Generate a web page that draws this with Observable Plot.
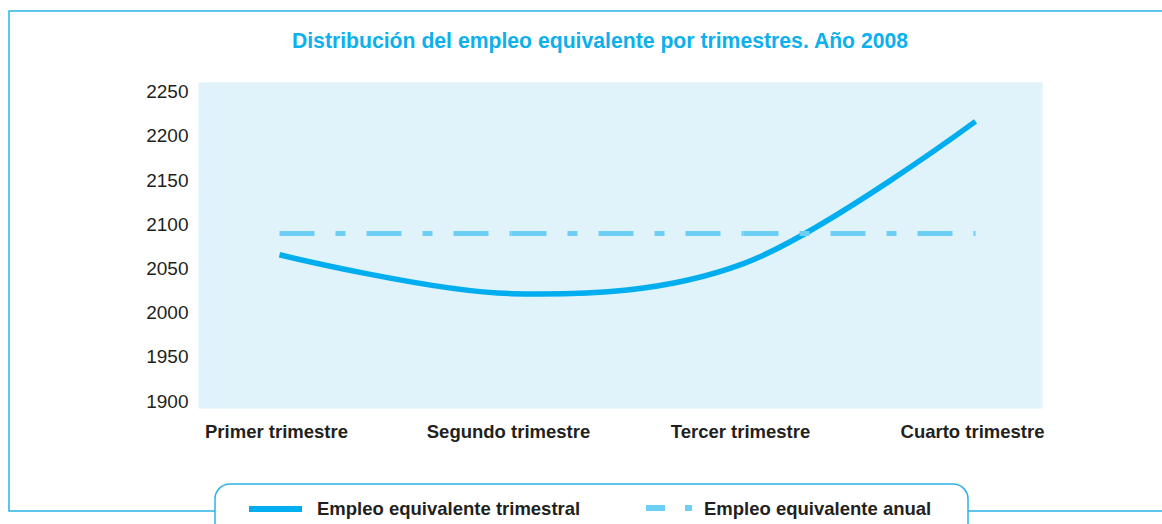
<!DOCTYPE html>
<html>
<head>
<meta charset="utf-8">
<script src="https://cdn.jsdelivr.net/npm/d3@7"></script>
<script src="https://cdn.jsdelivr.net/npm/@observablehq/plot@0.6"></script>
<style>
  body { margin: 0; background: #fff; }
  #wrap { position: relative; width: 1162px; height: 524px; overflow: hidden; font-family: "Liberation Sans", Arial, sans-serif; }
  #wrap > svg { position: absolute; left: 0; top: 0; }
  #deco { pointer-events: none; }
</style>
</head>
<body>
<div id="wrap"></div>
<script>
// ---- data ----
const categories = ["Primer trimestre", "Segundo trimestre", "Tercer trimestre", "Cuarto trimestre"];
const trimestral = [2066, 2022, 2056, 2217];
const anual = [2090, 2090, 2090, 2090];
const yTicks = [1900, 1950, 2000, 2050, 2100, 2150, 2200, 2250];
const titleText = "Distribución del empleo equivalente por trimestres. Año 2008";
const legendLabels = ["Empleo equivalente trimestral", "Empleo equivalente anual"];

const solidColor = "#00aeef";
const dashColor = "#6dcff6";
const borderColor = "#2ab3e8";
const textColor = "#231f20";

const rows = categories.map((c, i) => ({c, v: trimestral[i]}));
// annual line drawn per interval between categories (dash pattern restarts)
const segs = categories.slice(0, -1).flatMap((c, i) => [
  {c, v: anual[i], s: i},
  {c: categories[i + 1], v: anual[i + 1], s: i}
]);

const chart = Plot.plot({
  width: 1162,
  height: 524,
  marginTop: 82,
  marginBottom: 116,
  marginLeft: 198,
  marginRight: 120,
  style: {background: "transparent", fontFamily: "'Liberation Sans', Arial, sans-serif", overflow: "visible"},
  x: {type: "point", domain: categories, range: [279, 975], padding: 0, label: null},
  y: {domain: [1892, 2261], ticks: yTicks, label: null},
  marks: [
    Plot.frame({fill: "#e0f3fb", stroke: "none"}),
    Plot.axisY({ticks: yTicks, tickFormat: d => String(d), tickSize: 0, tickPadding: 10, fontSize: 19, color: textColor, label: null}),
    Plot.axisX({tickSize: 0, tickPadding: 16, dx: -3, fontSize: 18.5, fontWeight: "bold", color: textColor, label: null}),
    Plot.line(rows, {x: "c", y: "v", curve: "cardinal", stroke: solidColor, strokeWidth: 5.5, strokeLinecap: "butt"}),
    Plot.line(segs, {x: "c", y: "v", z: "s", stroke: dashColor, strokeWidth: 5, strokeDasharray: "35,21,10,21", strokeLinecap: "butt"})
  ]
});
document.getElementById("wrap").appendChild(chart);

// ---- decoration: border, title, legend ----
const deco = d3.select("#wrap").append("svg")
  .attr("id", "deco").attr("width", 1162).attr("height", 524)
  .style("font-family", "'Liberation Sans', Arial, sans-serif");

deco.append("path")
  .attr("d", "M1162,11 H9 V511 H1162")
  .attr("fill", "none").attr("stroke", borderColor).attr("stroke-width", 1.5);

deco.append("text")
  .attr("x", 600).attr("y", 48).attr("text-anchor", "middle")
  .attr("font-size", 21.2).attr("font-weight", "bold").attr("fill", "#0cb0ec")
  .text(titleText);

deco.append("path")
  .attr("d", "M215,540 V499 A15,15 0 0 1 230,484 H953 A15,15 0 0 1 968,499 V540")
  .attr("fill", "#fff").attr("stroke", borderColor).attr("stroke-width", 1.5);

deco.append("rect").attr("x", 249).attr("y", 506).attr("width", 53).attr("height", 6).attr("fill", solidColor);
deco.append("text").attr("x", 317).attr("y", 515).attr("font-size", 18.5).attr("font-weight", "bold")
  .attr("fill", textColor).text(legendLabels[0]);

deco.append("rect").attr("x", 646).attr("y", 505).attr("width", 19).attr("height", 6).attr("fill", dashColor);
deco.append("rect").attr("x", 685).attr("y", 505).attr("width", 7).attr("height", 6).attr("fill", dashColor);
deco.append("text").attr("x", 704).attr("y", 515).attr("font-size", 18.5).attr("font-weight", "bold")
  .attr("fill", textColor).text(legendLabels[1]);
</script>
</body>
</html>
